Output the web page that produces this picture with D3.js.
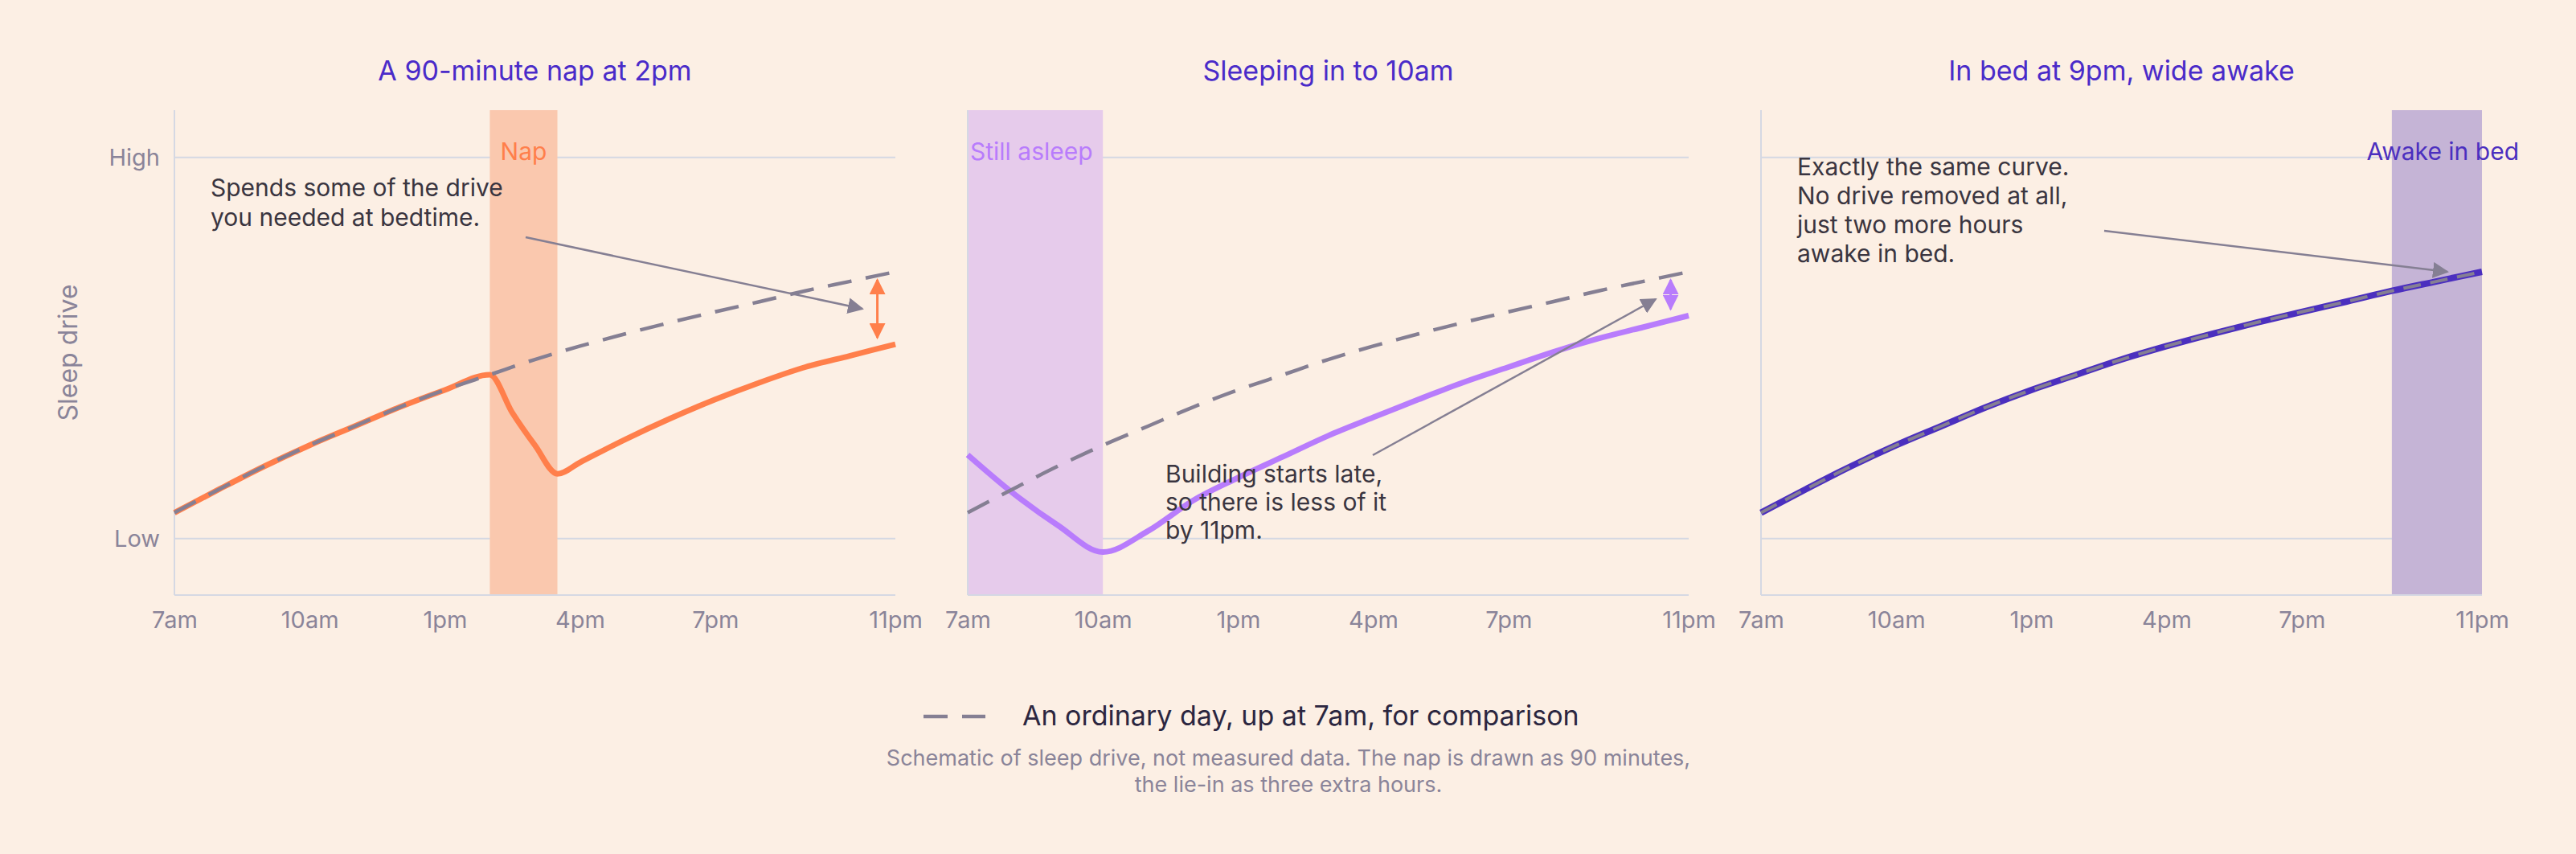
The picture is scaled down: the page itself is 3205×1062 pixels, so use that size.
<!DOCTYPE html>
<html><head><meta charset="utf-8">
<script src="https://cdn.jsdelivr.net/npm/d3@7"></script>
<style>body{margin:0;background:#FCEFE4}svg{display:block;font-family:Inter,"Noto Sans",sans-serif}</style>
</head><body><svg id="c" width="3205" height="1062"></svg>
<script>
const hours = [7,8,9,10,11,12,13,14,15,16,17,18,19,20,21,22,23];
const ordinary = [0.068,0.13,0.19,0.245,0.295,0.345,0.39,0.43,0.47,0.505,0.537,0.567,0.595,0.622,0.65,0.675,0.70];
const napHours = [7,8,9,10,11,12,13,14,14.5,15,15.5,16,17,18,19,20,21,22,23];
const napValues = [0.068,0.13,0.19,0.245,0.295,0.345,0.39,0.43,0.33,0.245,0.17,0.20,0.26,0.315,0.365,0.41,0.45,0.48,0.51];
const lieHours = [7,8,9,10,11,12,13,14,15,16,17,18,19,20,21,22,23];
const lieValues = [0.22,0.12,0.035,-0.035,0.02,0.10,0.16,0.215,0.27,0.318,0.365,0.41,0.45,0.49,0.525,0.555,0.585];
const tickHours = [7,10,13,16,19,23];
const tickLabels = ["7am","10am","1pm","4pm","7pm","11pm"];
const titles = ["A 90-minute nap at 2pm","Sleeping in to 10am","In bed at 9pm, wide awake"];
const bands = [[14,15.5],[7,10],[21,23]];
const bandLabels = ["Nap","Still asleep","Awake in bed"];

const svg = d3.select("#c");
svg.append("rect").attr("width",3205).attr("height",1062).attr("fill","#FCEFE4");
const defs = svg.append("defs");
function marker(id,color){
  defs.append("marker").attr("id",id).attr("viewBox","0 0 10 10").attr("refX",9).attr("refY",5)
   .attr("markerWidth",7).attr("markerHeight",7).attr("markerUnits","userSpaceOnUse").attr("orient","auto-start-reverse")
   .append("path").attr("d","M0,0L10,5L0,10z").attr("fill",color);
}
marker("ag","#857F93");marker("ao","#FF7F4B");marker("ap","#B87CFC");
defs.selectAll("marker").attr("markerWidth",20).attr("markerHeight",20);

const lefts=[217,1204,2191], W=897, plotTop=137, plotBottom=740;
const y = d3.scaleLinear().domain([-0.148,1.124]).range([plotBottom,plotTop]);
const lineColors=["#FF7F4B","#B87CFC","#4B2FBF"];
const bandColors=["#FAC8AE","#E6CBEB","#C5B4D6"];
const labelColors=["#FF7F4B","#B87CFC","#4B2FBF"];
const series=[[napHours,napValues],[lieHours,lieValues],[hours,ordinary]];

lefts.forEach((L,i)=>{
  const x = d3.scaleLinear().domain([7,23]).range([L,L+W]);
  const g = svg.append("g");
  g.append("text").attr("x",L+W/2).attr("y",100).attr("text-anchor","middle").attr("font-size",34).attr("fill","#4A2BC9").text(titles[i]);
  [0,1].forEach(v=>g.append("line").attr("x1",L).attr("x2",L+W).attr("y1",y(v)).attr("y2",y(v)).attr("stroke","#D5D8E3").attr("stroke-width",2));
  const b=bands[i];
  g.append("rect").attr("x",x(b[0])).attr("width",x(b[1])-x(b[0])).attr("y",plotTop).attr("height",plotBottom-plotTop).attr("fill",bandColors[i]);
  g.append("line").attr("x1",L).attr("x2",L).attr("y1",plotTop).attr("y2",plotBottom).attr("stroke","#D5D8E3").attr("stroke-width",2);
  g.append("line").attr("x1",L).attr("x2",L+W).attr("y1",plotBottom).attr("y2",plotBottom).attr("stroke","#D5D8E3").attr("stroke-width",2);
  const ax = d3.axisBottom(x).tickValues(tickHours).tickFormat((d,k)=>tickLabels[k]).tickSize(0).tickPadding(20);
  const axg=g.append("g").attr("transform",`translate(0,${plotBottom})`).call(ax);
  axg.select(".domain").remove();
  axg.selectAll("text").attr("font-size",29).attr("fill","#8A8499").attr("font-family","Inter,sans-serif");
  if(i===0){
    const ay=d3.axisLeft(y).tickValues([0,1]).tickFormat(d=>d?"High":"Low").tickSize(0).tickPadding(18);
    const ag=g.append("g").attr("transform",`translate(${L},0)`).call(ay);
    ag.select(".domain").remove();
    ag.selectAll("text").attr("font-size",29).attr("fill","#8A8499").attr("font-family","Inter,sans-serif");
    g.append("text").attr("transform",`translate(96,${(plotTop+plotBottom)/2}) rotate(-90)`).attr("text-anchor","middle").attr("font-size",32).attr("fill","#8A8499").text("Sleep drive");
  }
  const bl=g.append("text").attr("y",199).attr("font-size",30).attr("fill",labelColors[i]).text(bandLabels[i]);
  if(i===0) bl.attr("x",(x(b[0])+x(b[1]))/2).attr("text-anchor","middle");
  else if(i===1) bl.attr("x",x(b[0])+3);
  else bl.attr("x",3134).attr("text-anchor","end");
  const mk=(hs,vs)=>d3.line().x(d=>x(d[0])).y(d=>y(d[1])).curve(d3.curveMonotoneX)(hs.map((h,k)=>[h,vs[k]]));
  const s=series[i];
  if(i===2){
    g.append("path").attr("d",mk(s[0],s[1])).attr("fill","none").attr("stroke",lineColors[i]).attr("stroke-width",8);
    g.append("path").attr("d",mk(hours,ordinary)).attr("fill","none").attr("stroke","#857F93").attr("stroke-width",4).attr("stroke-dasharray","22,12");
  } else {
    g.append("path").attr("d",mk(s[0],s[1])).attr("fill","none").attr("stroke",lineColors[i]).attr("stroke-width",7);
    g.append("path").attr("d",mk(hours,ordinary)).attr("fill","none").attr("stroke","#857F93").attr("stroke-width",4.5).attr("stroke-dasharray","30,18");
    const xe=x(22.6), y1=y(ordinary[16])+10, y2=y(s[1][s[1].length-1])-8;
    const m=i?"ap":"ao";
    g.append("line").attr("x1",xe).attr("x2",xe).attr("y1",y1).attr("y2",y2).attr("stroke",lineColors[i]).attr("stroke-width",3)
      .attr("marker-start",`url(#${m})`).attr("marker-end",`url(#${m})`);
  }
});

function note(lines,x0,y0,dy){
  const t=svg.append("text").attr("font-size",30).attr("fill","#3A3540");
  lines.forEach((l,k)=>t.append("tspan").attr("x",x0).attr("y",y0+k*dy).text(l));
}
function arrow(x1,y1,x2,y2){
  svg.append("line").attr("x1",x1).attr("y1",y1).attr("x2",x2).attr("y2",y2).attr("stroke","#857F93").attr("stroke-width",2.5).attr("marker-end","url(#ag)");
}
note(["Spends some of the drive","you needed at bedtime."],262,244,37);
arrow(654,295,1073,384);
note(["Building starts late,","so there is less of it","by 11pm."],1450,600,35);
arrow(1708,566,2060,372);
note(["Exactly the same curve.","No drive removed at all,","just two more hours","awake in bed."],2236,218,36);
arrow(2618,287,3045,338);

svg.append("line").attr("x1",1149).attr("x2",1226).attr("y1",891).attr("y2",891).attr("stroke","#857F93").attr("stroke-width",4.5).attr("stroke-dasharray","30,18");
svg.append("text").attr("x",1272).attr("y",902).attr("font-size",34).attr("fill","#2B2640").text("An ordinary day, up at 7am, for comparison");
const fn=svg.append("text").attr("text-anchor","middle").attr("font-size",27).attr("fill","#8A8499");
fn.append("tspan").attr("x",1603).attr("y",952).text("Schematic of sleep drive, not measured data. The nap is drawn as 90 minutes,");
fn.append("tspan").attr("x",1603).attr("y",985).text("the lie-in as three extra hours.");
</script></body></html>
